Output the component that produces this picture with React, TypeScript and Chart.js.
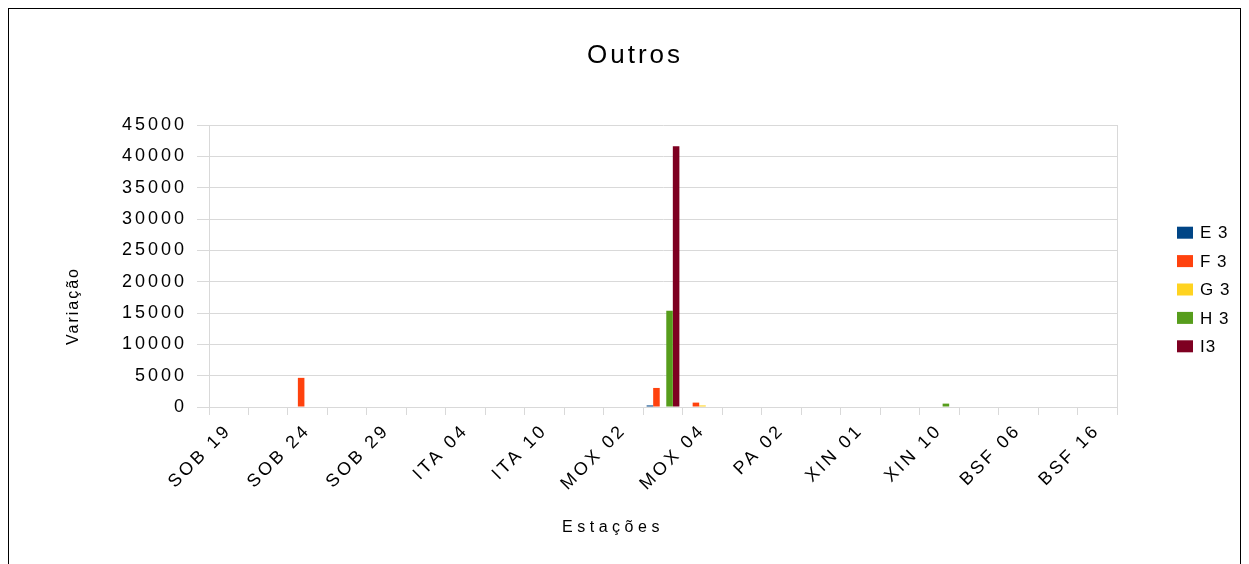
import React, { useEffect, useRef } from "react";
import { Chart, registerables } from "chart.js";

Chart.register(...registerables);

const categories: string[] = [
  "SOB 19", "", "SOB 24", "", "SOB 29", "", "ITA 04", "", "ITA 10", "", "MOX 02", "",
  "MOX 04", "", "PA 02", "", "XIN 01", "", "XIN 10", "", "BSF 06", "", "BSF 16",
];

const seriesNames: string[] = ["E 3", "F 3", "G 3", "H 3", "I3"];
const seriesColors: string[] = ["#004586", "#ff420e", "#ffd320", "#579d1c", "#7e0021"];

const e3: number[] = [0, 0, 0, 0, 0, 0, 0, 0, 0, 0, 0, 250, 0, 0, 0, 0, 0, 0, 0, 0, 0, 0, 0];
const f3: number[] = [0, 0, 4650, 0, 0, 0, 0, 0, 0, 0, 0, 3040, 700, 0, 0, 0, 0, 0, 0, 0, 0, 0, 0];
const g3: number[] = [0, 0, 0, 0, 0, 0, 0, 0, 0, 0, 0, 0, 250, 0, 0, 0, 0, 0, 0, 0, 0, 0, 0];
const h3: number[] = [0, 0, 0, 0, 0, 0, 0, 0, 0, 0, 0, 15360, 0, 0, 0, 0, 0, 0, 540, 0, 0, 0, 0];
const i3: number[] = [0, 0, 0, 0, 0, 0, 0, 0, 0, 0, 0, 41600, 0, 0, 0, 0, 0, 0, 0, 0, 0, 0, 0];

const yTicks: number[] = [0, 5000, 10000, 15000, 20000, 25000, 30000, 35000, 40000, 45000];

const chartTitle = "Outros";
const xTitle = "Estações";
const yTitle = "Variação";

const FONT = "'Liberation Sans', Arial, sans-serif";
const GRID = "#d9d9d9";

export default function App() {
  const ref = useRef<HTMLCanvasElement | null>(null);

  useEffect(() => {
    if (!ref.current) return;
    const setSpacing = (chart: any, s: string) => {
      try { (chart.ctx as any).letterSpacing = s; } catch (e) {}
    };
    const decor = {
      id: "decor",
      beforeUpdate(chart: any) { setSpacing(chart, "3px"); },
      beforeLayout(chart: any) { setSpacing(chart, "3px"); },
      beforeDraw(chart: any) { setSpacing(chart, "3px"); },
      afterDraw(chart: any) {
        const ctx = chart.ctx as CanvasRenderingContext2D;
        const a = chart.chartArea;
        ctx.save();
        ctx.strokeStyle = GRID;
        ctx.lineWidth = 1;
        ctx.beginPath();
        ctx.moveTo(Math.round(a.right) + 0.5, a.top);
        ctx.lineTo(Math.round(a.right) + 0.5, a.bottom);
        ctx.stroke();

        ctx.fillStyle = "#000";
        ctx.textBaseline = "middle";
        (ctx as any).letterSpacing = "3px";
        ctx.font = `26px ${FONT}`;
        ctx.textAlign = "center";
        ctx.fillText(chartTitle, 626, 47);
        (ctx as any).letterSpacing = "4.5px";
        ctx.font = `16px ${FONT}`;
        ctx.fillText(xTitle, 604, 519);
        (ctx as any).letterSpacing = "2px";
        ctx.save();
        ctx.translate(65, 297);
        ctx.rotate(-Math.PI / 2);
        ctx.fillText(yTitle, 0, 0);
        ctx.restore();
        (ctx as any).letterSpacing = "1px";
        ctx.font = `17px ${FONT}`;
        ctx.textAlign = "left";
        chart.data.datasets.forEach((ds: any, i: number) => {
          const cy = 223.7 + i * 28.4;
          ctx.fillStyle = ds.backgroundColor;
          ctx.fillRect(1168, cy - 6, 16, 12);
          ctx.fillStyle = "#000";
          ctx.fillText(ds.label, 1191, cy + 1);
        });
        ctx.restore();
        setSpacing(chart, "3px");
      },
    };

    const chart = new Chart(ref.current, {
      type: "bar",
      data: {
        labels: categories,
        datasets: [e3, f3, g3, h3, i3].map((d, i) => ({
          label: seriesNames[i],
          data: d,
          backgroundColor: seriesColors[i],
          borderWidth: 0,
          categoryPercentage: 0.83,
          barPercentage: 1.0,
        })),
      },
      options: {
        animation: false,
        responsive: false,
        devicePixelRatio: 1,
        layout: { padding: { top: 116, right: 123, bottom: 0, left: 0 } },
        plugins: {
          legend: { display: false },
          title: { display: false },
          tooltip: { enabled: false },
        },
        scales: {
          x: {
            grid: {
              display: true,
              drawOnChartArea: false,
              drawTicks: true,
              tickLength: 8,
              color: GRID,
              offset: true,
            },
            border: { display: true, color: GRID },
            ticks: {
              autoSkip: false,
              maxRotation: 45,
              minRotation: 45,
              padding: 5,
              color: "#000",
              font: { family: FONT, size: 18 },
            },
            afterFit: (scale: any) => { scale.height = 157; },
          },
          y: {
            min: 0,
            max: 45000,
            afterBuildTicks: (scale: any) => {
              scale.ticks = yTicks.map((v) => ({ value: v }));
            },
            grid: { color: GRID, tickLength: 12, drawTicks: true },
            border: { display: true, color: GRID },
            ticks: {
              padding: 10,
              color: "#000",
              font: { family: FONT, size: 18 },
              callback: (v: any) => String(v),
            },
            afterFit: (scale: any) => { scale.width = 200; },
          },
        },
      },
      plugins: [decor],
    });
    return () => chart.destroy();
  }, []);

  return (
    <div
      style={{
        position: "absolute",
        left: 8,
        top: 8,
        width: 1233,
        height: 556,
        boxSizing: "border-box",
        borderTop: "1px solid #000",
        borderLeft: "1px solid #000",
        borderRight: "1px solid #000",
        background: "#fff",
        overflow: "hidden",
      }}
    >
      <canvas ref={ref} width={1231} height={555} style={{ display: "block", width: 1231, height: 555 }} />
    </div>
  );
}
